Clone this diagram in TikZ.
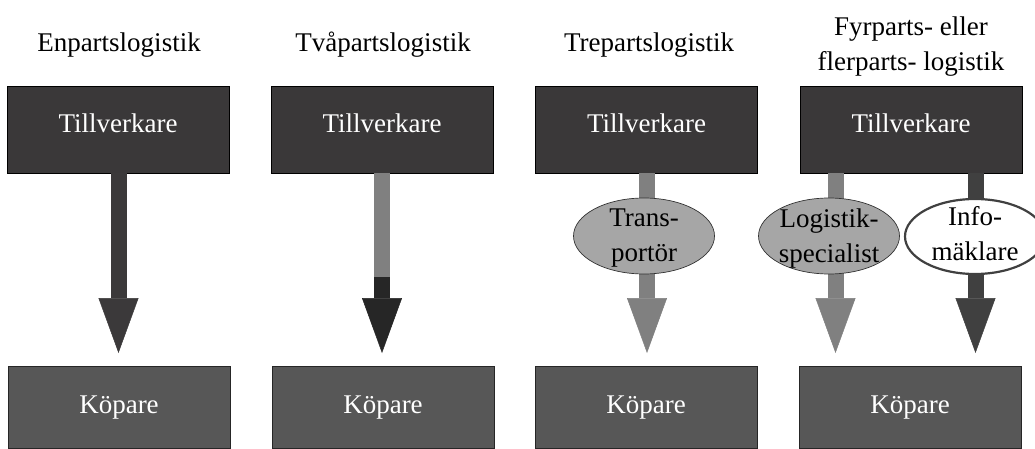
\documentclass[tikz,border=0pt]{standalone}
\usepackage{fontspec}
\setmainfont{Liberation Serif}
\usetikzlibrary{shapes.geometric,arrows.meta}

\definecolor{makerfill}{RGB}{58,56,57}
\definecolor{buyerfill}{RGB}{87,87,87}
\definecolor{flowdark}{RGB}{59,57,58}
\definecolor{flowgray}{RGB}{128,128,128}
\definecolor{flowblack}{RGB}{38,38,38}
\definecolor{flowinfo}{RGB}{64,64,64}
\definecolor{partyfill}{RGB}{166,166,166}

\begin{document}
\begin{tikzpicture}[x=1pt,y=-1pt,
  txt/.style={font=\fontsize{27}{35.5}\selectfont, inner sep=0pt},
  heading/.style={txt, anchor=base},
  twoline/.style={txt, align=center},
  maker/.style={txt, draw=black, line width=0.8pt, fill=makerfill, text=white,
    minimum width=222pt, minimum height=87pt, text height=18pt, text depth=11pt},
  buyer/.style={txt, draw=black!85, line width=0.8pt, fill=buyerfill, text=white,
    minimum width=222pt, minimum height=82pt, text height=18pt, text depth=6pt},
  party/.style={ellipse, draw=black!80, line width=0.7pt, fill=partyfill,
    minimum width=141pt, minimum height=76pt, inner sep=0pt},
  broker/.style={ellipse, draw=flowinfo, line width=2.2pt, fill=white,
    minimum width=140pt, minimum height=75pt, inner sep=0pt},
  shaft/.style={line width=16pt},
  flow/.style={shaft, -{Triangle[width=40pt,length=55pt,line width=0.5pt]}},
]
\clip (0,0) rectangle (1035,449);
\fill[white] (0,0) rectangle (1035,449);

% column headings
\node[heading] (h1) at (119,52) {Enpartslogistik};
\node[heading] (h2) at (383,52) {Tvåpartslogistik};
\node[heading] (h3) at (649,52) {Trepartslogistik};
\node[twoline] (h4) at (911,46.6) {Fyrparts- eller\\flerparts- logistik};

% manufacturers
\node[maker] (m1) at (118,129.5) {Tillverkare};
\node[maker] (m2) at (382,129.5) {Tillverkare};
\node[maker] (m3) at (646.5,129.5) {Tillverkare};
\node[maker] (m4) at (911,129.5) {Tillverkare};

% buyers
\node[buyer] (k1) at (119,407) {Köpare};
\node[buyer] (k2) at (383,407) {Köpare};
\node[buyer] (k3) at (646,407) {Köpare};
\node[buyer] (k4) at (910,407) {Köpare};

% arrow tips and joints
\coordinate (t1) at (118.5,353);
\coordinate (t2) at (382,353);
\coordinate (j2) at (382,277);
\coordinate (t3) at (647,353);
\coordinate (t4a) at (835.5,353);
\coordinate (t4b) at (975.5,353);

% flows
\draw[flow, flowdark] (m1.south -| t1) -- (t1);
\draw[shaft, flowgray] (m2.south -| t2) -- (j2);
\draw[flow, flowblack] (j2) -- (t2);
\draw[flow, flowgray] (m3.south -| t3) -- (t3);
\draw[flow, flowgray] (m4.south -| t4a) -- (t4a);
\draw[flow, flowinfo] (m4.south -| t4b) -- (t4b);

% intermediaries
\node[party] (p3) at (644,236) {};
\node[twoline] (l3) at (644,238.1) {Trans-\\portör};
\node[party] (p4) at (829,236) {};
\node[twoline] (l4) at (829,238.6) {Logistik-\\specialist};
\node[broker] (p5) at (975,236.5) {};
\node[twoline] (l5) at (975,233.5) {Info-\\mäklare};
\end{tikzpicture}
\end{document}
